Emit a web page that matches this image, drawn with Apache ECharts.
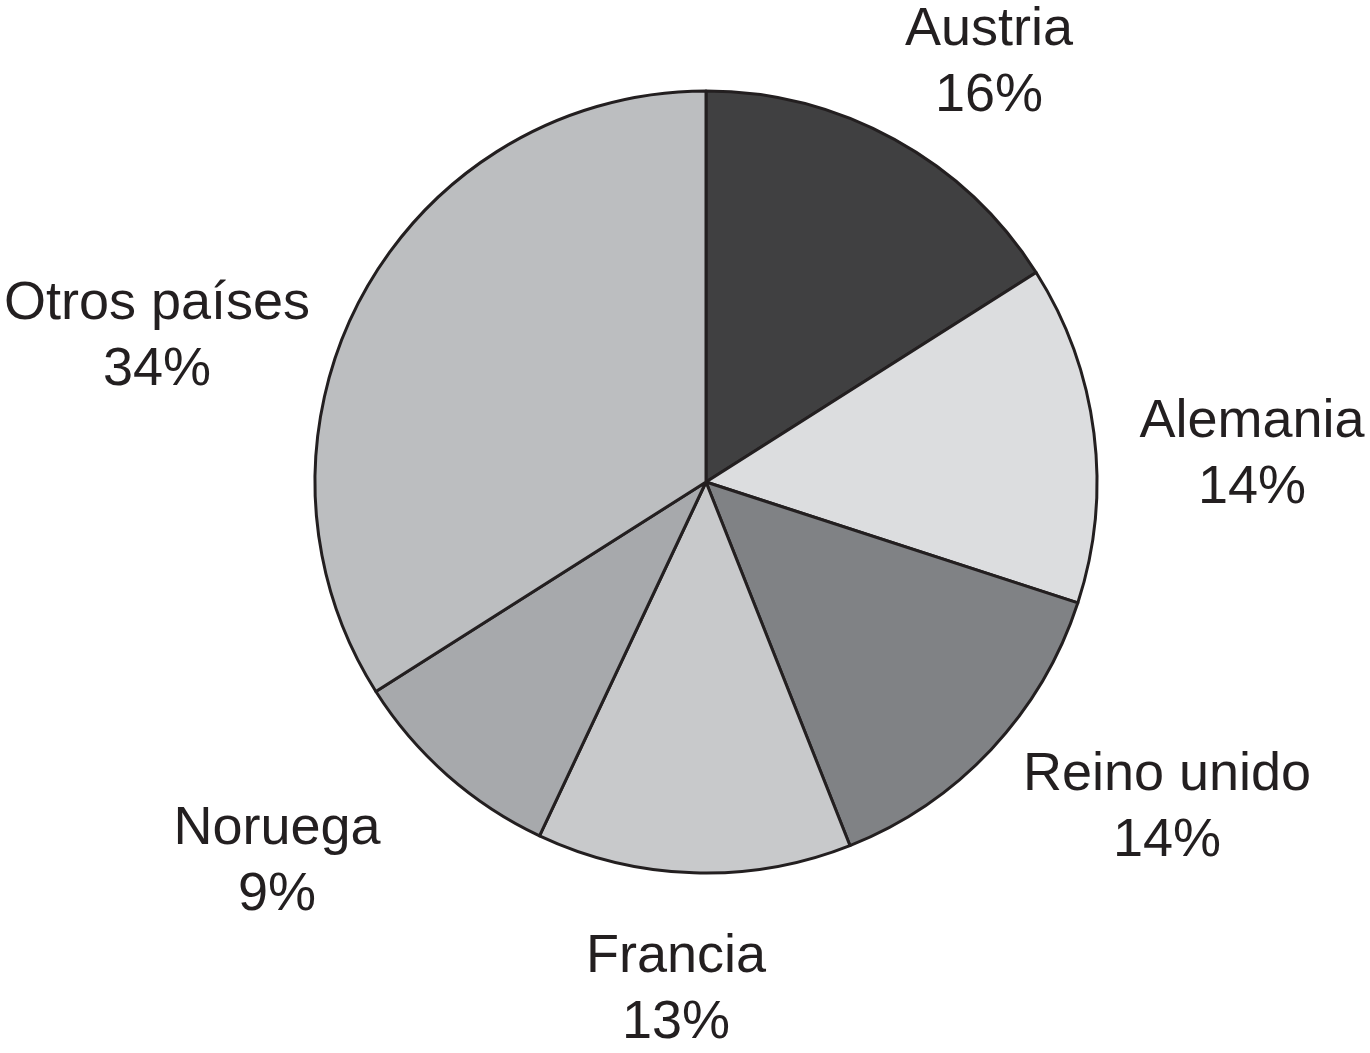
<!DOCTYPE html>
<html>
<head>
<meta charset="utf-8">
<script src="https://cdn.jsdelivr.net/npm/echarts@6/dist/echarts.min.js"></script>
<style>html,body{margin:0;padding:0;background:#fff;}#c{width:1370px;height:1053px;}</style>
</head>
<body>
<div id="c"></div>
<script>
const categories = ["Austria", "Alemania", "Reino unido", "Francia", "Noruega", "Otros países"];
const values = [16, 14, 14, 13, 9, 34];
const colors = ["#404041", "#dcdddf", "#808285", "#c8c9cb", "#a7a9ac", "#bcbec0"];
// label anchor positions (centre of the two-line text block), in px
const labelPositions = [[989, 63], [1252, 455], [1167, 808], [676, 990], [277, 862], [157, 337]];

const chart = echarts.init(document.getElementById('c'), null, {renderer: 'canvas'});
chart.setOption({
  animation: false,
  backgroundColor: '#ffffff',
  series: [{
    type: 'pie',
    center: [706, 482],
    radius: 391,
    startAngle: 90,
    clockwise: true,
    data: categories.map((n, i) => ({name: n, value: values[i], itemStyle: {color: colors[i]}})),
    itemStyle: {borderColor: '#231f20', borderWidth: 3},
    label: {
      show: true,
      position: 'outside',
      formatter: p => p.name + '\n' + p.value + '%',
      fontFamily: '"Liberation Sans", Arial, Helvetica, sans-serif',
      fontSize: 54,
      lineHeight: 66,
      color: '#231f20',
      align: 'center',
      overflow: 'none',
      width: 400
    },
    labelLine: {show: false},
    labelLayout: function (params) {
      const p = labelPositions[params.dataIndex];
      return {x: p[0], y: p[1], align: 'center', verticalAlign: 'middle'};
    },
    emphasis: {disabled: true}
  }]
});
</script>
</body>
</html>
